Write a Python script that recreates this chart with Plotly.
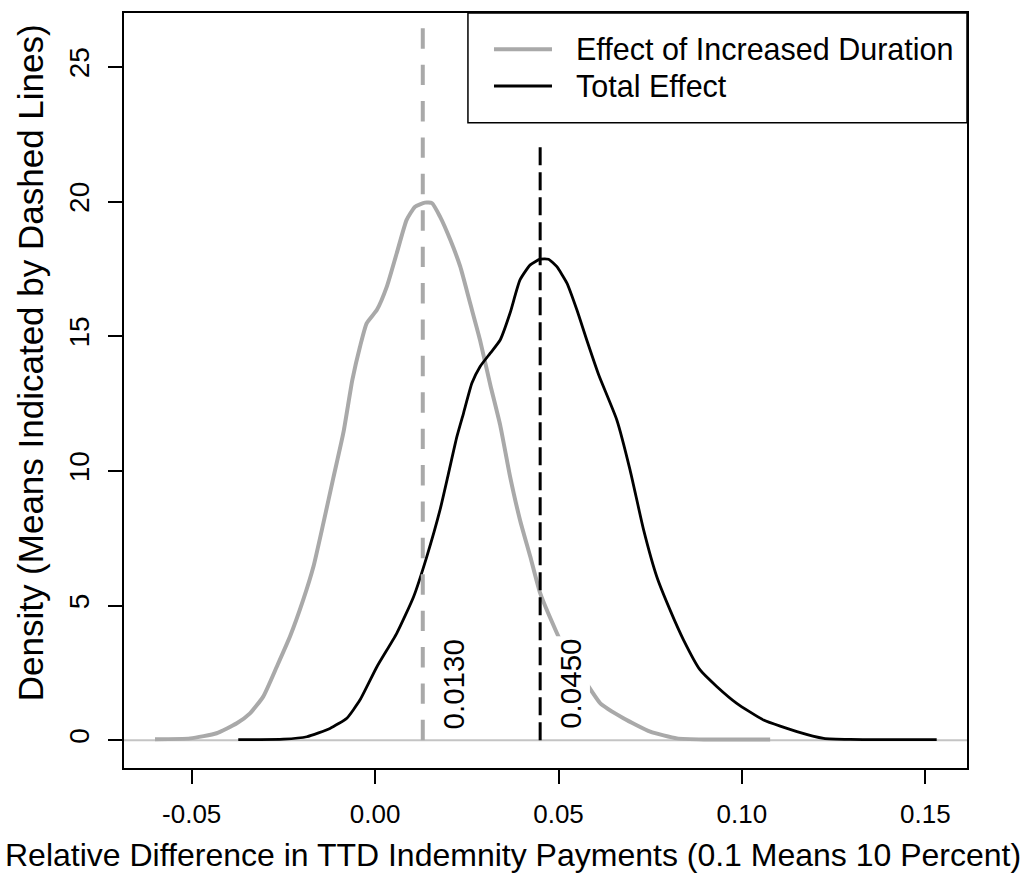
import plotly.graph_objects as go

# Densidad del efecto de mayor duración (curva gris)
dur_x = [-0.0600, -0.0504, -0.0432, -0.0377, -0.0341, -0.0305, -0.0268, -0.0232,
         -0.0196, -0.0168, -0.0141, -0.0114, -0.0086, -0.0062, -0.0041, -0.0023,
         0.0005, 0.0032, 0.0059, 0.0086, 0.0109, 0.0136, 0.0155, 0.0177, 0.0205,
         0.0232, 0.0259, 0.0286, 0.0314, 0.0341, 0.0368, 0.0395, 0.0423, 0.0450,
         0.0494, 0.0530, 0.0573, 0.0614, 0.0677, 0.0750, 0.0823, 0.0900, 0.1077]
dur_y = [0.04, 0.07, 0.26, 0.63, 1.00, 1.62, 2.73, 3.85,
         5.21, 6.45, 8.06, 9.73, 11.45, 13.38, 14.62, 15.48,
         15.98, 16.84, 18.08, 19.32, 19.81, 19.96, 19.94, 19.44, 18.58,
         17.59, 16.23, 14.86, 13.20, 11.70, 9.79, 8.18, 6.82, 5.46,
         4.03, 3.00, 2.18, 1.37, 0.82, 0.32, 0.07, 0.03, 0.03]

# Densidad del efecto total (curva negra)
tot_x = [-0.0373, -0.0250, -0.0186, -0.0123, -0.0077, -0.0041, 0.0005, 0.0059,
         0.0105, 0.0141, 0.0177, 0.0200, 0.0223, 0.0241, 0.0264, 0.0286, 0.0314,
         0.0341, 0.0368, 0.0395, 0.0423, 0.0450, 0.0473, 0.0495, 0.0523, 0.0550,
         0.0577, 0.0610, 0.0659, 0.0695, 0.0732, 0.0768, 0.0804, 0.0841, 0.0886,
         0.0932, 0.0986, 0.1059, 0.1150, 0.1223, 0.1295, 0.1531]
tot_y = [0.02, 0.04, 0.13, 0.44, 0.82, 1.50, 2.73, 3.97,
         5.33, 6.82, 8.55, 9.90, 11.27, 12.14, 13.26, 13.87, 14.37,
         14.86, 15.86, 17.09, 17.65, 17.86, 17.86, 17.59, 16.97, 15.98,
         14.86, 13.55, 11.89, 10.04, 7.81, 6.07, 4.84, 3.72, 2.61,
         1.99, 1.37, 0.75, 0.32, 0.07, 0.03, 0.02]

means = [0.013, 0.045]
mean_tops = [26.55, 22.1]
mean_labels = ['0.0130', '0.0450']
series_names = ['Effect of Increased Duration', 'Total Effect']

x_ticks = [-0.05, 0.0, 0.05, 0.10, 0.15]
x_ticktext = ['-0.05', '0.00', '0.05', '0.10', '0.15']
y_ticks = [0, 5, 10, 15, 20, 25]

gris = '#A9A9A9'
negro = 'black'
fuente = 'Liberation Sans, Arial, sans-serif'

fig = go.Figure()

# Curvas de densidad
fig.add_trace(go.Scatter(x=dur_x, y=dur_y, mode='lines', name=series_names[0],
                         line=dict(color=gris, width=4, shape='spline', smoothing=0.5)))
fig.add_trace(go.Scatter(x=tot_x, y=tot_y, mode='lines', name=series_names[1],
                         line=dict(color=negro, width=2.8, shape='spline', smoothing=0.5)))

# Líneas de medias (discontinuas)
fig.add_trace(go.Scatter(x=[means[0], means[0]], y=[0, mean_tops[0]], mode='lines',
                         line=dict(color=gris, width=4, dash='20.4px,16px')))
fig.add_trace(go.Scatter(x=[means[1], means[1]], y=[0, mean_tops[1]], mode='lines',
                         line=dict(color=negro, width=3, dash='18px,7px')))

# Línea horizontal en cero
fig.add_shape(type='line', xref='paper', yref='y', x0=0, x1=1, y0=0, y1=0,
              line=dict(color='#C4C4C4', width=2), layer='below')

# Etiquetas de las medias
for m, lab in zip(means, mean_labels):
    fig.add_annotation(x=m + 0.0083, y=0.3, text=lab, textangle=-90,
                       showarrow=False, xanchor='center', yanchor='bottom',
                       bgcolor='white', borderpad=2,
                       font=dict(size=29.5, color='black', family=fuente))

# Leyenda dibujada a mano (estilo R)
fig.add_shape(type='rect', xref='paper', yref='paper', x0=0.408, x1=1.0, y0=0.8547, y1=1.0,
              line=dict(color='black', width=1.5), fillcolor='white')
leg_colors = [gris, negro]
leg_widths = [4, 2.8]
leg_ys = [0.9519, 0.9033]
for name, c, w, ly in zip(series_names, leg_colors, leg_widths, leg_ys):
    fig.add_shape(type='line', xref='paper', yref='paper', x0=0.4389, x1=0.5077, y0=ly, y1=ly,
                  line=dict(color=c, width=w))
    fig.add_annotation(xref='paper', yref='paper', x=0.5338, y=ly, text=name,
                       showarrow=False, xanchor='left', yanchor='middle',
                       font=dict(size=30.5, color='black', family=fuente))

# Títulos de ejes
fig.add_annotation(xref='paper', yref='paper', x=0.462, y=-0.115,
                   text='Relative Difference in TTD Indemnity Payments (0.1 Means 10 Percent)',
                   showarrow=False, xanchor='center', yanchor='middle',
                   font=dict(size=32, color='black', family=fuente))
fig.add_annotation(xref='paper', yref='paper', x=-0.1115, y=0.536,
                   text='Density (Means Indicated by Dashed Lines)', textangle=-90,
                   showarrow=False, xanchor='center', yanchor='middle',
                   font=dict(size=35, color='black', family=fuente))

fig.update_layout(
    width=1025, height=886,
    margin=dict(l=124, r=58, t=13, b=118),
    paper_bgcolor='white', plot_bgcolor='white',
    showlegend=False,
    font=dict(family=fuente, color='black', size=26),
    xaxis=dict(range=[-0.06845, 0.16136], tickvals=x_ticks, ticktext=x_ticktext,
               showgrid=False, zeroline=False, showline=True, mirror=True,
               linecolor='black', linewidth=2, ticks='outside', ticklen=14,
               tickwidth=2, tickcolor='black', ticklabelstandoff=8,
               tickfont=dict(size=26)),
    yaxis=dict(range=[-1.03, 27.0], tickvals=y_ticks,
               showgrid=False, zeroline=False, showline=True, mirror=True,
               linecolor='black', linewidth=2, ticks='outside', ticklen=14,
               tickwidth=2, tickcolor='black', tickangle=-90, ticklabelstandoff=8,
               tickfont=dict(size=28)),
)

# Quitar el margen del body para que el gráfico quede pegado a la esquina
fig.write_html("out.html", config={'displayModeBar': False},
               post_script="document.body.style.margin='0';")
